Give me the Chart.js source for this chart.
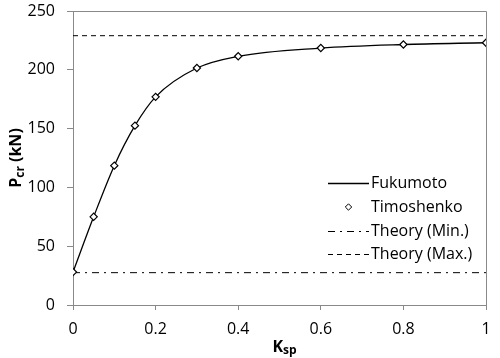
<!DOCTYPE html>
<html>
<head>
<meta charset="utf-8">
<script src="https://cdn.jsdelivr.net/npm/chart.js@4"></script>
<style>
html,body{margin:0;padding:0;background:#fff;}
#wrap{width:500px;height:358px;}
</style>
</head>
<body>
<div id="wrap"><canvas id="c" width="500" height="358"></canvas></div>
<script>
const ksp = [0, 0.05, 0.1, 0.15, 0.2, 0.3, 0.4, 0.6, 0.8, 1.0];
const fukumoto = [28, 75, 118.5, 152.5, 177, 201.5, 211.5, 218.5, 221.5, 223];
const timoshenko = [28, 75, 118.5, 152.5, 177, 201.5, 211.5, 218.5, 221.5, 223];
const theoryMin = 27.5;
const theoryMax = 229;
const xRange = [0, 1];
const xTicks = [0, 0.2, 0.4, 0.6, 0.8, 1];
const yTicks = [0, 50, 100, 150, 200, 250];
const seriesNames = ['Fukumoto', 'Timoshenko', 'Theory (Min.)', 'Theory (Max.)'];

const FONT = '"Open Sans", sans-serif';
const AXIS = '#898989';

const pts = (xs, ys) => xs.map((x, i) => ({x, y: ys[i]}));

const legendPlugin = {
  id: 'customLegend',
  afterDraw(chart) {
    const ctx = chart.ctx;
    const ca = chart.chartArea;
    // frame
    ctx.save();
    ctx.strokeStyle = AXIS;
    ctx.lineWidth = 1;
    ctx.beginPath();
    ctx.moveTo(ca.left, ca.top + 0.5);
    ctx.lineTo(ca.right + 0.5, ca.top + 0.5);
    ctx.lineTo(ca.right + 0.5, ca.bottom);
    ctx.stroke();
    ctx.restore();

    // legend
    const x0 = 328, x1 = 369, tx = 371;
    const ys = [183, 207, 231, 254];
    ctx.save();
    ctx.font = '16px ' + FONT;
    ctx.fillStyle = '#000';
    ctx.textBaseline = 'middle';
    ctx.textAlign = 'left';
    chart.data.datasets.forEach((ds, i) => {
      const y = ys[i];
      ctx.strokeStyle = '#000';
      if (i === 1) {
        const cx = (x0 + x1) / 2, r = 3.2;
        ctx.setLineDash([]);
        ctx.lineWidth = 1;
        ctx.beginPath();
        ctx.moveTo(cx, y - r); ctx.lineTo(cx + r, y); ctx.lineTo(cx, y + r); ctx.lineTo(cx - r, y); ctx.closePath();
        ctx.fillStyle = '#fff'; ctx.fill(); ctx.stroke();
      } else {
        ctx.lineWidth = ds.borderWidth;
        ctx.setLineDash(ds.borderDash || []);
        ctx.beginPath();
        ctx.moveTo(x0, y + 0.5); ctx.lineTo(x1, y + 0.5);
        ctx.stroke();
      }
      ctx.setLineDash([]);
      ctx.fillStyle = '#000';
      ctx.fillText(ds.label, tx, y);
    });
    ctx.restore();

    // axis titles with subscripts
    ctx.save();
    ctx.fillStyle = '#000';
    ctx.textBaseline = 'alphabetic';
    const bigF = 'bold 16px ' + FONT, subF = 'bold 12px ' + FONT;
    ctx.font = bigF; const wK = ctx.measureText('K').width;
    ctx.font = subF; const wsp = ctx.measureText('sp').width;
    let sx = (ca.left + ca.right) / 2 - (wK + wsp) / 2 + 5;
    const by = 352;
    ctx.font = bigF; ctx.fillText('K', sx, by);
    ctx.font = subF; ctx.fillText('sp', sx + wK, by + 2);
    // y title
    ctx.translate(21, (ca.top + ca.bottom) / 2);
    ctx.rotate(-Math.PI / 2);
    ctx.font = bigF; const wP = ctx.measureText('P').width; const wkn = ctx.measureText(' (kN)').width;
    ctx.font = subF; const wcr = ctx.measureText('cr').width;
    let yx = -(wP + wcr + wkn) / 2;
    ctx.font = bigF; ctx.fillText('P', yx, 0);
    ctx.font = subF; ctx.fillText('cr', yx + wP, 3);
    ctx.font = bigF; ctx.fillText(' (kN)', yx + wP + wcr, 0);
    ctx.restore();
  }
};

new Chart(document.getElementById('c'), {
  type: 'line',
  data: {
    datasets: [
      {
        label: seriesNames[0],
        data: pts(ksp, fukumoto),
        borderColor: '#000',
        borderWidth: 1.3,
        pointRadius: 0,
        cubicInterpolationMode: 'monotone',
        fill: false,
        order: 2
      },
      {
        label: seriesNames[1],
        data: pts(ksp, timoshenko),
        showLine: false,
        pointStyle: 'rectRot',
        pointRadius: 3.6,
        pointBorderWidth: 1.2,
        pointBackgroundColor: '#fff',
        pointBorderColor: '#000',
        borderColor: '#000',
        order: 0
      },
      {
        label: seriesNames[2],
        data: pts(xRange, [theoryMin, theoryMin]),
        borderColor: '#000',
        borderWidth: 1,
        borderDash: [7, 5, 2, 5],
        pointRadius: 0,
        order: 3
      },
      {
        label: seriesNames[3],
        data: pts(xRange, [theoryMax, theoryMax]),
        borderColor: '#000',
        borderWidth: 1,
        borderDash: [5, 4],
        pointRadius: 0,
        order: 3
      }
    ]
  },
  options: {
    responsive: false,
    animation: false,
    devicePixelRatio: 1,
    layout: { padding: { top: 11, right: 14, left: 0, bottom: 0 } },
    plugins: { legend: { display: false }, tooltip: { enabled: false } },
    scales: {
      x: {
        type: 'linear',
        min: 0, max: 1,
        afterFit(s) { s.height = 53; s.paddingLeft = 0; s.paddingRight = 0; },
        afterBuildTicks(s) { s.ticks = xTicks.map(v => ({value: v})); },
        grid: { drawOnChartArea: false, color: AXIS, tickLength: 5 },
        border: { color: AXIS, width: 1 },
        ticks: { color: '#000', font: { family: FONT, size: 16 }, padding: 10, maxRotation: 0,
          callback: v => String(v) }
      },
      y: {
        type: 'linear',
        min: 0, max: 250,
        afterFit(s) { s.width = 73; s.paddingTop = 0; s.paddingBottom = 0; },
        afterBuildTicks(s) { s.ticks = yTicks.map(v => ({value: v})); },
        grid: { drawOnChartArea: false, color: AXIS, tickLength: 6 },
        border: { color: AXIS, width: 1 },
        ticks: { color: '#000', font: { family: FONT, size: 16 }, padding: 12 }
      }
    }
  },
  plugins: [legendPlugin]
});
</script>
</body>
</html>
